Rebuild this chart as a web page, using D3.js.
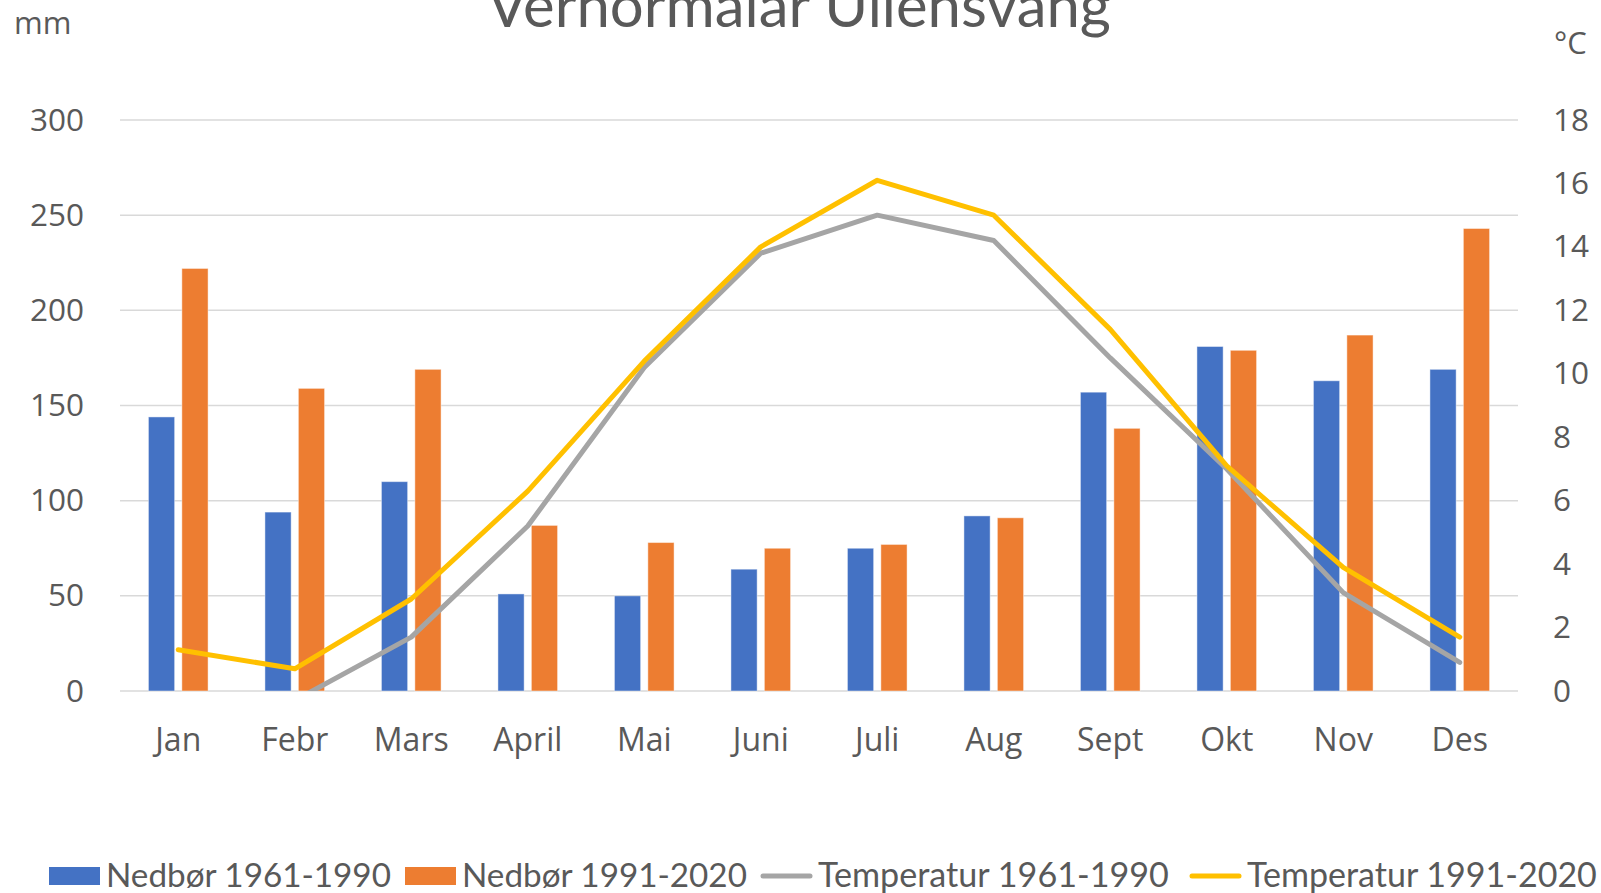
<!DOCTYPE html>
<html><head><meta charset="utf-8">
<script src="https://cdn.jsdelivr.net/npm/d3@7"></script>
<style>body{margin:0;background:#fff;} svg{display:block;}</style>
</head><body><svg id="c" width="1601" height="893"></svg>
<script>
const months = ["Jan","Febr","Mars","April","Mai","Juni","Juli","Aug","Sept","Okt","Nov","Des"];
const precip6190 = [144,94,110,51,50,64,75,92,157,181,163,169];
const precip9120 = [222,159,169,87,78,75,77,91,138,179,187,243];
const temp6190 = [-0.6,-0.3,1.7,5.2,10.2,13.8,15.0,14.2,10.5,7.0,3.1,0.9];
const temp9120 = [1.3,0.7,2.9,6.3,10.4,14.0,16.1,15.0,11.4,7.1,3.9,1.7];
const mmTicks = [0,50,100,150,200,250,300];
const cTicks = [0,2,4,6,8,10,12,14,16,18];
const seriesNames = ["Nedbør 1961-1990","Nedbør 1991-2020","Temperatur 1961-1990","Temperatur 1991-2020"];
const legendWidths = [285, 285, 351, 350];
const colors = ["#4472C4","#ED7D31","#A5A5A5","#FFC000"];

const svg = d3.select("#c");
const L = 120, R = 1518, T = 120, B = 691;
const txt = "#595959";
const tickFont = "'Open Sans', sans-serif";
const calFont = "Lato, 'Liberation Sans', sans-serif";

const x = d3.scaleBand().domain(months).range([L, R]);
const yL = d3.scaleLinear().domain([0,300]).range([B, T]);
const yR = d3.scaleLinear().domain([0,18]).range([B, T]);

function fit(t, w){
  const l = t.node().getComputedTextLength();
  const fs = parseFloat(t.attr("font-size"));
  t.attr("font-size", fs * w / l);
  return fs * w / l;
}

// gridlines
svg.append("g").selectAll("line").data(mmTicks).join("line")
  .attr("x1", L).attr("x2", R)
  .attr("y1", d => yL(d)).attr("y2", d => yL(d))
  .attr("stroke", "#D9D9D9").attr("stroke-width", 1.5);

// left axis
const axL = svg.append("g").attr("transform", `translate(${L},0)`)
  .call(d3.axisLeft(yL).tickValues(mmTicks).tickSize(0).tickPadding(36));
axL.select(".domain").remove();
axL.selectAll("text").attr("font-family", tickFont).attr("font-size", 31.5).attr("fill", txt);

// right axis
const axR = svg.append("g").attr("transform", `translate(${R},0)`)
  .call(d3.axisRight(yR).tickValues(cTicks).tickSize(0).tickPadding(35));
axR.select(".domain").remove();
axR.selectAll("text").attr("font-family", tickFont).attr("font-size", 31.5).attr("fill", txt);

// bottom axis
const axB = svg.append("g").attr("transform", `translate(0,${B})`)
  .call(d3.axisBottom(x).tickSize(0).tickPadding(37));
axB.select(".domain").remove();
axB.selectAll("text").attr("font-family", tickFont).attr("font-size", 32).attr("fill", txt);

// bars
const bw = x.bandwidth();
const barW = bw * 0.225, gap = bw * 0.062;
[precip6190, precip9120].forEach((arr, si) => {
  svg.append("g").selectAll("rect").data(arr).join("rect")
    .attr("x", (d,i) => x(months[i]) + bw/2 + (si === 0 ? -gap/2 - barW : gap/2))
    .attr("width", barW)
    .attr("y", d => yL(d))
    .attr("height", d => yL(0) - yL(d))
    .attr("fill", colors[si])
    .attr("stroke", "#ffffff").attr("stroke-opacity", 0.45).attr("stroke-width", 1);
});

// lines
svg.append("clipPath").attr("id", "pa").append("rect")
  .attr("x", L).attr("y", T - 20).attr("width", R - L).attr("height", B - T + 20);
const line = d3.line().x((d,i) => x(months[i]) + bw/2).y(d => yR(d));
[temp6190, temp9120].forEach((arr, si) => {
  svg.append("path").datum(arr)
    .attr("clip-path", "url(#pa)")
    .attr("d", line)
    .attr("fill", "none")
    .attr("stroke", colors[si + 2])
    .attr("stroke-width", 5)
    .attr("stroke-linecap", "round")
    .attr("stroke-linejoin", "round");
});

// axis unit labels
svg.append("text").attr("x", 14).attr("y", 34).text("mm")
  .attr("font-family", tickFont).attr("font-size", 31).attr("fill", txt);
svg.append("text").attr("x", 1554).attr("y", 54).text("°C")
  .attr("font-family", tickFont).attr("font-size", 31).attr("fill", txt);

// title (cut at the top edge, as in the reference)
const title = svg.append("text").attr("x", 799).attr("y", 27).attr("text-anchor", "middle")
  .text("Vêrnormalar Ullensvang")
  .attr("font-family", calFont).attr("font-size", 60).attr("fill", txt);
fit(title, 624);

// legend
const lg = svg.append("g");
let cx = 49;
const ly = 876;
seriesNames.forEach((name, i) => {
  if (i < 2) {
    lg.append("rect").attr("x", cx).attr("y", ly - 9).attr("width", 51).attr("height", 18).attr("fill", colors[i]);
  } else {
    lg.append("line").attr("x1", cx + 2).attr("x2", cx + 49).attr("y1", ly).attr("y2", ly)
      .attr("stroke", colors[i]).attr("stroke-width", 5).attr("stroke-linecap", "round");
  }
  cx += 57;
  const t = lg.append("text").attr("x", cx).attr("y", ly + 11).text(name)
    .attr("font-family", calFont).attr("font-size", 34).attr("fill", txt);
  fit(t, legendWidths[i]);
  cx += legendWidths[i] + (i === 2 ? 21 : 14);
});
</script>
</body></html>
